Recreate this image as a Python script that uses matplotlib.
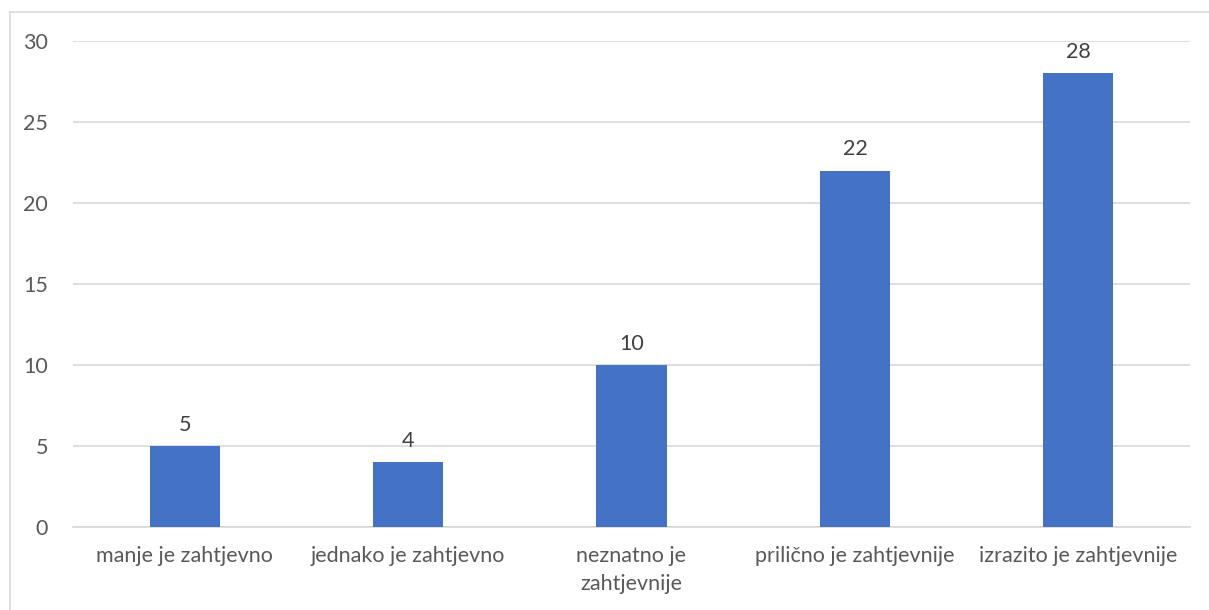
import matplotlib.pyplot as plt
from matplotlib.lines import Line2D

# Datos del grafico
categories = ["manje je zahtjevno", "jednako je zahtjevno", "neznatno je\nzahtjevnije",
              "prilično je zahtjevnije", "izrazito je zahtjevnije"]
values = [5, 4, 10, 22, 28]
y_ticks = [0, 5, 10, 15, 20, 25, 30]

plt.rcParams['font.family'] = ['Lato', 'DejaVu Sans']
text_color = "#595959"
grid_color = "#d9d9d9"
bar_color = "#4472C4"
fs = 15.5

fig = plt.figure(figsize=(12.09, 6.10), dpi=100)
ax = fig.add_axes([73 / 1209, 1 - 527 / 610, (1190 - 73) / 1209, (527 - 41) / 610])

x = range(len(categories))
bars = ax.bar(x, values, width=0.315, color=bar_color, zorder=3)
ax.bar_label(bars, labels=[str(v) for v in values], padding=8, fontsize=fs, color="#404040")

ax.set_xlim(-0.5, len(categories) - 0.5)
ax.set_ylim(0, 30)
ax.set_yticks(y_ticks)
ax.set_xticks(list(x))
ax.set_xticklabels(categories, fontsize=fs, color=text_color, linespacing=1.45)
ax.tick_params(axis="y", labelsize=fs, labelcolor=text_color, length=0, pad=18)
ax.tick_params(axis="x", length=0, pad=14)

ax.grid(axis="y", color=grid_color, linewidth=1.2, zorder=0)
for s in ["top", "right", "left"]:
    ax.spines[s].set_visible(False)
ax.spines["bottom"].set_color(grid_color)
ax.spines["bottom"].set_linewidth(1.2)

# Borde exterior del grafico (recortado a la derecha y abajo)
fig.add_artist(Line2D([10 / 1209, 1], [1 - 12 / 610, 1 - 12 / 610], color="#d9d9d9", linewidth=1.2))
fig.add_artist(Line2D([10 / 1209, 10 / 1209], [0, 1 - 12 / 610], color="#d9d9d9", linewidth=1.2))

fig.savefig("out.png", dpi=100)
